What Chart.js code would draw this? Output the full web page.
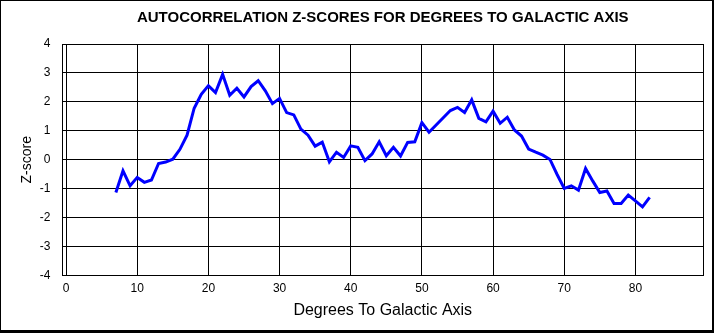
<!DOCTYPE html>
<html>
<head>
<meta charset="utf-8">
<script src="https://cdn.jsdelivr.net/npm/chart.js@4"></script>
<style>
  body { margin: 0; background: #fff; }
  canvas { display: block; }
</style>
</head>
<body>
<canvas id="zChart" width="714" height="333"></canvas>
<script>
// degrees to galactic axis (x) and the autocorrelation z-score
const degrees = [7, 8, 9, 10, 11, 12, 13, 14, 15, 16, 17, 18, 19, 20, 21, 22, 23, 24, 25, 26,
    27, 28, 29, 30, 31, 32, 33, 34, 35, 36, 37, 38, 39, 40, 41, 42, 43, 44, 45, 46,
    47, 48, 49, 50, 51, 52, 53, 54, 55, 56, 57, 58, 59, 60, 61, 62, 63, 64, 65, 66,
    67, 68, 69, 70, 71, 72, 73, 74, 75, 76, 77, 78, 79, 80, 81, 82];
const zScores = [-1.13, -0.38, -0.90, -0.61, -0.78, -0.70, -0.13, -0.08, 0.02, 0.36,
    0.85, 1.78, 2.26, 2.56, 2.32, 2.95, 2.23, 2.47, 2.17, 2.53,
    2.73, 2.38, 1.94, 2.12, 1.63, 1.55, 1.06, 0.85, 0.47, 0.61,
    -0.07, 0.26, 0.08, 0.48, 0.43, -0.03, 0.20, 0.62, 0.14, 0.43,
    0.13, 0.60, 0.62, 1.28, 0.95, 1.20, 1.45, 1.70, 1.81, 1.63,
    2.07, 1.43, 1.31, 1.68, 1.26, 1.47, 1.03, 0.82, 0.37, 0.26,
    0.16, 0.01, -0.51, -0.99, -0.90, -1.05, -0.30, -0.73, -1.13, -1.08,
    -1.51, -1.51, -1.22, -1.42, -1.63, -1.30];
const xTicks = [0, 10, 20, 30, 40, 50, 60, 70, 80];
const xMin = -0.5, xMax = 89.5;
const yMin = -4, yMax = 4;

Chart.defaults.font.family = "'Liberation Sans', Arial, sans-serif";
Chart.defaults.color = "#000";

// white background + outer frame
const framePlugin = {
    id: "frame",
    beforeDraw: function (chart) {
        const ctx = chart.ctx;
        ctx.save();
        ctx.fillStyle = "#fff";
        ctx.fillRect(0, 0, chart.width, chart.height);
        ctx.restore();
    },
    afterDraw: function (chart) {
        const ctx = chart.ctx;
        ctx.save();
        ctx.fillStyle = "#000";
        ctx.fillRect(0, 0, chart.width, 1);
        ctx.fillRect(0, 0, 1, chart.height);
        ctx.fillRect(chart.width - 2, 0, 2, chart.height);
        ctx.fillRect(0, chart.height - 3, chart.width, 3);
        ctx.restore();
    }
};

const ctx = document.getElementById("zChart").getContext("2d");
new Chart(ctx, {
    type: "line",
    data: {
        datasets: [{
            label: "Z-score",
            data: degrees.map((d, i) => ({ x: d, y: zScores[i] })),
            borderColor: "#0000ff",
            borderWidth: 3,
            pointRadius: 0,
            tension: 0,
            fill: false
        }]
    },
    options: {
        responsive: false,
        animation: false,
        devicePixelRatio: 1,
        layout: { padding: { left: 0, right: 11, top: 0, bottom: 0 } },
        plugins: {
            legend: { display: false },
            tooltip: { enabled: false },
            title: {
                display: true,
                text: "AUTOCORRELATION Z-SCORES FOR DEGREES TO GALACTIC AXIS",
                fullSize: false,
                color: "#000",
                font: { size: 15, weight: "bold" },
                padding: { top: 9, bottom: 17 }
            }
        },
        scales: {
            x: {
                type: "linear",
                min: xMin,
                max: xMax,
                afterBuildTicks: function (scale) {
                    scale.ticks = [xMin].concat(xTicks, [xMax]).map(v => ({ value: v }));
                },
                afterFit: function (scale) { scale.height = 57.5; },
                ticks: {
                    autoSkip: false,
                    maxRotation: 0,
                    padding: 6,
                    font: { size: 12 },
                    callback: function (value) {
                        return xTicks.includes(value) ? String(value) : "";
                    }
                },
                grid: { color: "#000", lineWidth: 1, drawTicks: false },
                border: { display: true, color: "#000", width: 1 },
                title: {
                    display: true,
                    text: "Degrees To Galactic Axis",
                    font: { size: 16 },
                    padding: { top: 0, bottom: 13 }
                }
            },
            y: {
                min: yMin,
                max: yMax,
                afterFit: function (scale) { scale.width = 62.5; },
                ticks: { stepSize: 1, padding: 12, font: { size: 12 } },
                grid: { color: "#000", lineWidth: 1, drawTicks: false },
                border: { display: true, color: "#000", width: 1 },
                title: {
                    display: true,
                    text: "Z-score",
                    font: { size: 14 },
                    padding: { top: 19, bottom: 0 }
                }
            }
        }
    },
    plugins: [framePlugin]
});
</script>
</body>
</html>
